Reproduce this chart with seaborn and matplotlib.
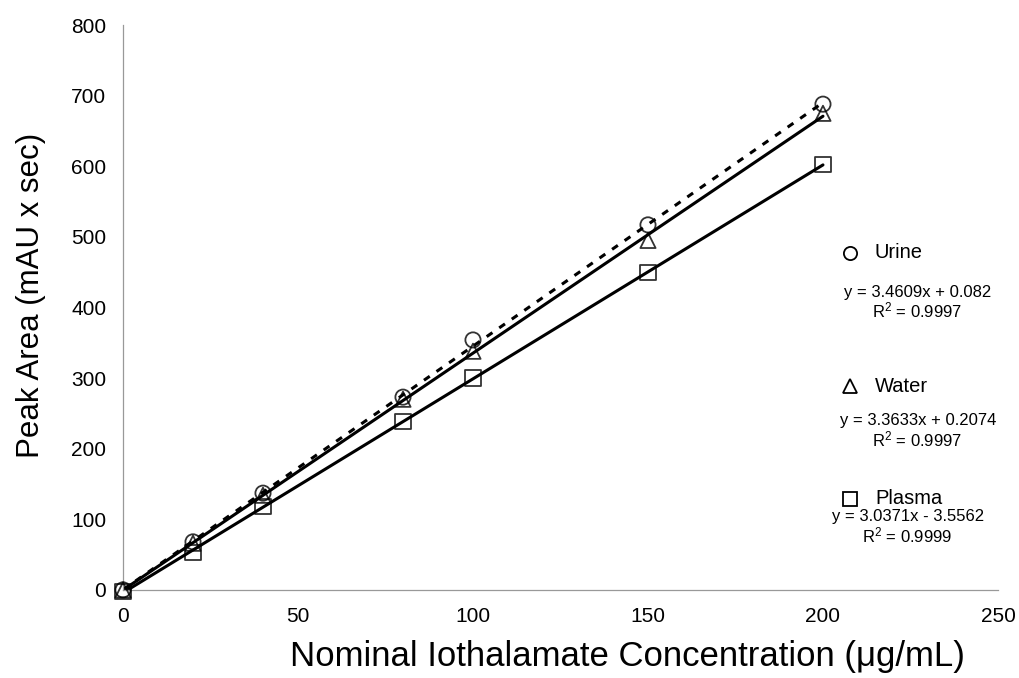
import seaborn as sns
import pandas as pd
import numpy as np
import matplotlib.pyplot as plt

# nominal concentrations (ug/mL)
conc = [0, 20, 40, 80, 100, 150, 200]

# peak areas
urine = [0, 68, 137, 273, 354, 517, 688]
water = [0, 66, 134, 270, 338, 495, 675]
plasma = [-2, 53, 118, 238, 300, 450, 602]

names = ['Urine', 'Water', 'Plasma']
markers = ['o', '^', 's']
equations = ['y = 3.4609x + 0.082', 'y = 3.3633x + 0.2074', 'y = 3.0371x - 3.5562']
r2 = ['0.9997', '0.9997', '0.9999']

df = pd.DataFrame({'conc': conc * 3,
                   'area': urine + water + plasma,
                   'matrix': np.repeat(names, len(conc))})

sns.set_style('white')
plt.rcParams['font.family'] = ['Liberation Sans', 'DejaVu Sans']
plt.rcParams['text.color'] = 'black'
plt.rcParams['axes.labelcolor'] = 'black'

fig = plt.figure(figsize=(10.2, 6.78), dpi=100)
ax = fig.add_axes([0.1206, 0.13, 0.8578, 0.833])

line_styles = {'Urine': (0, (2.3, 2.7)), 'Water': '-', 'Plasma': '-'}
for name, mk in zip(names, markers):
    sub = df[df['matrix'] == name]
    sns.regplot(data=sub, x='conc', y='area', ci=None, ax=ax, marker=mk,
                scatter_kws={'s': 120, 'facecolors': 'none', 'edgecolors': 'black',
                             'linewidths': 1.3, 'clip_on': False, 'zorder': 3},
                line_kws={'color': 'black', 'lw': 2.2, 'ls': line_styles[name], 'zorder': 2})

ax.set_xlim(0, 250)
ax.set_ylim(0, 800)
ax.set_xticks(range(0, 251, 50))
ax.set_yticks(range(0, 801, 100))
sns.despine(ax=ax)
for s in ['left', 'bottom']:
    ax.spines[s].set_color('#999999')
    ax.spines[s].set_linewidth(0.9)
ax.tick_params(axis='both', which='major', direction='out', length=4, width=0.8,
               color='#777777', labelcolor='black', labelsize=15, pad=8)
ax.set_xlabel('Nominal Iothalamate Concentration (\u03bcg/mL)', fontsize=25)
ax.set_ylabel('Peak Area (mAU x sec)', fontsize=22.5)
ax.xaxis.set_label_coords((627 - 123) / 875, -(640 - 590) / 565)
ax.yaxis.set_label_coords(-(123 - 46) / 875, (590 - 295) / 565)

# legend with fit equations on the right
sym_y = [253, 386, 499]
eq_y = [292, 421, 517]
eq_x = [918, 918, 908]
for i in range(3):
    yf = 1 - sym_y[i] / 678
    fig.lines.append(plt.Line2D([850 / 1020], [yf], marker=markers[i], ms=9.5, mfc='white',
                                mec='black', mew=1.3, ls='none', transform=fig.transFigure))
    fig.text(875 / 1020, yf, names[i], fontsize=14.5, va='center', ha='left')
    fig.text(eq_x[i] / 1020, 1 - eq_y[i] / 678, equations[i], fontsize=12,
             va='center', ha='center')
    fig.text((eq_x[i] - 1) / 1020, 1 - (eq_y[i] + 18) / 678, '$\\mathregular{R^2}$ = ' + r2[i],
             fontsize=12, va='center', ha='center')

plt.savefig('out.png', dpi=100)
